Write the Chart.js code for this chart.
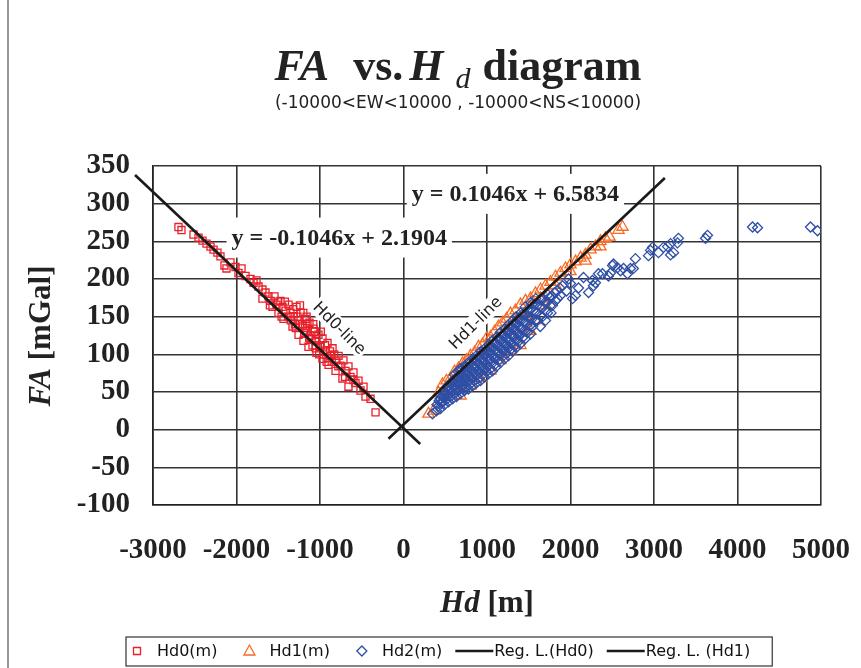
<!DOCTYPE html>
<html>
<head>
<meta charset="utf-8">
<script src="https://cdn.jsdelivr.net/npm/chart.js@4.4.1/dist/chart.umd.min.js"></script>
<style>
  html, body { margin: 0; padding: 0; background: #fff; }
  #wrap { width: 861px; height: 668px; }
</style>
</head>
<body>
<div id="wrap"><canvas id="fa_chart" width="861" height="668"></canvas></div>
<script>
// axis ranges
const xRange = [-3000, 5000];
const xStep = 1000;
const yRange = [-100, 350];
const yStep = 50;

const seriesNames = ['Hd0(m)', 'Hd1(m)', 'Hd2(m)', 'Reg. L.(Hd0)', 'Reg. L. (Hd1)'];
const regEquations = ['y = -0.1046x + 2.1904', 'y = 0.1046x + 6.5834'];
const lineNames = ['Hd0-line', 'Hd1-line'];

// Hd0 (m) : [Hd, FA]
const hd0 = [
  [-2695,269],[-2659,265],[-2515,259],[-2455,255],[-2407,251],[-2359,247],[-2311,243],[-2275,239],
  [-2228,235],[-2192,230],[-2144,218],[-2120,214],[-2072,222],[-2012,216],[-1976,208],[-1940,214],
  [-1892,204],[-1832,200],[-1796,195],[-1760,198],[-1736,190],[-1689,186],[-1653,182],[-1617,177],
  [-1689,174],[-1593,171],[-1545,177],[-1521,166],[-1569,163],[-1473,171],[-1449,163],[-1413,158],
  [-1497,155],[-1377,166],[-1353,155],[-1317,150],[-1437,147],[-1281,163],[-1257,145],[-1233,155],
  [-1209,138],[-1329,137],[-1174,147],[-1162,131],[-1126,142],[-1114,125],[-1257,126],[-1078,134],
  [-1054,118],[-1198,118],[-1018,126],[-994,112],[-970,121],[-1138,110],[-934,105],[-910,115],
  [-874,98],[-1042,102],[-850,108],[-814,92],[-970,94],[-778,98],[-754,85],[-898,86],[-719,92],
  [-695,78],[-814,78],[-659,84],[-635,70],[-731,68],[-599,76],[-575,62],[-659,57],[-539,65],
  [-515,52],[-479,57],[-455,44],[-395,41],[-335,23],
  [-1300,140],[-1190,128],[-1100,120],[-1000,110],[-880,104],[-1160,150],[-1380,150],[-1060,130],
  [-920,90],[-780,84],[-700,70],[-600,66],
  [-1460,150],[-1420,170],[-1350,145],[-1290,135],[-1240,140],[-1180,135],[-1130,122],[-1090,112],
  [-1050,108],[-1010,100],[-960,100],[-940,112],[-900,95],[-860,90],[-830,100],[-1320,160],
  [-1240,165],[-1200,155],[-1150,140],[-1500,170],[-1600,165],[-1270,150],[-1080,140],[-990,130]
];

// Hd1 (m)
const hd1 = [
  [299,21],[359,25],[419,49],[467,60],[515,65],[563,68],[611,77],[659,81],[707,88],[754,92],
  [802,98],[850,102],[898,110],[946,113],[994,121],[1042,123],[1090,130],[1138,137],[1186,142],
  [1234,147],[1281,154],[1341,158],[1401,166],[1461,171],[1521,174],[1581,181],[1641,186],
  [1701,191],[1760,196],[1820,203],[1880,208],[1940,214],[2000,219],[2060,223],[2120,228],
  [2180,232],[2240,239],[2299,243],[2359,250],[2419,254],[2467,256],[2575,265],[2623,269],
  [563,54],[743,76],[922,94],[1102,114],[1281,131],[1461,151],[1641,174],[1820,192],[2000,210],
  [2180,224],[2359,243],
  [802,58],[1042,78],[1162,92],[1401,112],[922,68],[1281,105],[683,45],[1581,145],[1701,165],[1521,131]
];

// Hd2 (m)
const hd2 = [
  [347,21],[395,25],[400,33],[443,28],[450,36],[438,41],[491,33],[485,42],[497,48],
  [539,37],[532,45],[545,53],[540,58],[587,41],[580,50],[594,57],[588,65],
  [635,44],[628,53],[641,61],[633,69],[683,48],[690,57],[676,65],[686,73],[680,81],
  [731,52],[725,60],[738,69],[729,77],[735,85],[778,54],[785,64],[772,73],[781,81],[776,89],
  [826,58],[820,68],[832,77],[824,85],[829,94],[874,62],[880,72],[868,81],[877,90],[871,98],
  [922,65],[915,76],[928,85],[920,94],[925,104],[970,70],[977,80],[963,89],[972,98],[966,107],
  [1018,74],[1011,84],[1024,94],[1015,104],[1021,113],[1066,78],[1073,89],[1059,98],[1069,109],[1062,118],
  [1114,84],[1107,94],[1120,104],[1110,114],[1117,123],[1162,89],[1169,100],[1155,109],[1165,119],[1158,129],
  [1210,94],[1203,105],[1216,114],[1206,125],[1213,134],[1257,98],[1264,109],[1250,119],[1260,130],[1253,139],
  [1305,104],[1298,114],[1311,125],[1301,135],[1308,145],[1353,109],[1360,119],[1346,130],[1356,141],[1349,150],
  [1401,114],[1394,125],[1407,135],[1397,146],[1404,155],[1461,121],[1468,131],[1454,142],[1464,153],[1457,163],
  [1521,127],[1514,138],[1527,149],[1517,159],[1524,169],[1581,145],[1588,155],[1574,166],[1584,174],
  [1641,151],[1634,163],[1647,172],[1638,137],[1701,145],[1708,158],[1694,169],
  [1760,165],[1753,176],[1767,155],[1820,171],[1813,182],[1880,178],[1873,188],
  [419,31],[425,38],[467,36],[461,44],[472,50],[515,40],[509,49],[520,57],[563,44],[557,53],[569,61],
  [611,48],[605,57],[617,65],[608,73],[659,52],[653,61],[665,69],[656,77],[707,54],[701,64],[713,72],[704,80],
  [754,57],[748,66],[760,76],[751,84],[802,61],[796,70],[808,80],[799,89],[850,65],[844,74],[856,84],[847,93],
  [898,68],[892,78],[904,88],[895,97],[946,73],[940,82],[952,92],[943,101],[994,77],[988,86],[1000,97],[991,106],
  [1042,81],[1036,92],[1048,101],[1039,110],[1090,86],[1084,96],[1096,106],[1087,115],
  [1138,92],[1132,101],[1144,111],[1135,121],[1186,97],[1180,106],[1192,117],[1183,126],
  [1234,101],[1228,111],[1240,122],[1231,131],[1281,106],[1275,117],[1287,127],[1278,137],
  [1329,111],[1323,122],[1335,133],[1326,142],[1377,117],[1371,127],[1383,138],[1374,147],
  [1425,122],[1419,133],[1431,143],[1422,153],[1485,129],[1479,139],[1491,150],[1482,159],
  [1545,137],[1539,147],[1551,158],[1542,167],[1605,145],[1599,155],[1611,166],
  [1665,150],[1659,163],[1671,174],[1725,155],[1719,169],[1731,179],[1784,165],[1778,177],[1844,174],[1838,184],
  [1904,191],[1952,184],[2000,194],[1976,200],[2024,174],[2060,178],[2096,188],[2156,202],
  [2216,182],[2263,198],[2275,191],[2299,195],[2335,207],[2383,207],[2455,204],[2479,208],
  [2503,218],[2515,220],[2563,215],[2599,211],[2635,214],[2683,207],[2718,214],[2754,214],
  [2778,227],[2934,231],[2958,238],[2982,242],[3054,235],[3114,242],[3198,232],[3234,235],
  [3162,243],[3198,247],[3281,248],[3293,254],[3617,254],[3641,258],[4180,269],[4240,268],
  [4874,269],[4958,264]
];

// regression lines, end points as drawn
const reg0 = [[-3215,338],[200,-19]];
const reg1 = [[-180,-12],[3130,334]];

// where the text labels sit, in data units
const eqAnchors = [[-770,255],[1340,313]];
const lineAnchors = [[-766,135],[860,142]];

const serif = '"Liberation Serif", "Times New Roman", serif';
const sans = '"DejaVu Sans", sans-serif';

const toXY = (arr) => arr.map(p => ({ x: p[0], y: p[1] }));

function drawParts(ctx, parts, cx, y) {
    let total = 0;
    parts.forEach(p => {
        ctx.font = p.font;
        p.w = ctx.measureText(p.text).width;
        total += p.w + (p.gap || 0);
    });
    let x = cx - total / 2;
    parts.forEach(p => {
        x += p.gap || 0;
        ctx.font = p.font;
        ctx.fillText(p.text, x, y + (p.dy || 0));
        x += p.w;
    });
}

function drawMarker(ctx, ds, x, y) {
    ctx.save();
    ctx.strokeStyle = ds.borderColor;
    ctx.lineWidth = ds.type === 'line' ? 2.5 : 1.3;
    ctx.beginPath();
    if (ds.type === 'line') {
        ctx.moveTo(x - 19, y);
        ctx.lineTo(x + 19, y);
    } else if (ds.pointStyle === 'rect') {
        ctx.rect(x - 3.5, y - 3.5, 7, 7);
    } else if (ds.pointStyle === 'triangle') {
        ctx.moveTo(x, y - 6);
        ctx.lineTo(x + 5.5, y + 4);
        ctx.lineTo(x - 5.5, y + 4);
        ctx.closePath();
    } else {
        ctx.moveTo(x - 5, y);
        ctx.lineTo(x, y - 5);
        ctx.lineTo(x + 5, y);
        ctx.lineTo(x, y + 5);
        ctx.closePath();
    }
    ctx.stroke();
    ctx.restore();
}

const decorations = {
    id: 'decorations',
    beforeDraw(chart) {
        const ctx = chart.ctx;
        ctx.save();
        ctx.fillStyle = '#fff';
        ctx.fillRect(0, 0, chart.width, chart.height);
        // outer frame edge
        ctx.strokeStyle = '#999';
        ctx.lineWidth = 2;
        ctx.beginPath();
        ctx.moveTo(8, 0);
        ctx.lineTo(8, chart.height);
        ctx.stroke();
        ctx.restore();
    },
    beforeDatasetsDraw(chart) {
        const ctx = chart.ctx;
        const xs = chart.scales.x, ys = chart.scales.y;
        ctx.save();
        // regression equations, white boxed
        ctx.font = 'bold 24px ' + serif;
        ctx.textAlign = 'center';
        ctx.textBaseline = 'middle';
        regEquations.forEach((t, i) => {
            const px = xs.getPixelForValue(eqAnchors[i][0]);
            const py = ys.getPixelForValue(eqAnchors[i][1]);
            const w = ctx.measureText(t).width;
            ctx.fillStyle = '#fff';
            ctx.fillRect(px - w / 2 - 5, py - 20, w + 10, 40);
            ctx.fillStyle = '#222';
            ctx.fillText(t, px, py + 1);
        });
        // rotated line names
        ctx.font = '16px ' + sans;
        lineNames.forEach((t, i) => {
            const px = xs.getPixelForValue(lineAnchors[i][0]);
            const py = ys.getPixelForValue(lineAnchors[i][1]);
            const w = ctx.measureText(t).width;
            ctx.save();
            ctx.translate(px, py);
            ctx.rotate(i === 0 ? Math.PI / 4 : -Math.PI / 4);
            ctx.fillStyle = '#fff';
            ctx.fillRect(-w / 2 - 2, -9, w + 4, 18);
            ctx.fillStyle = '#222';
            ctx.fillText(t, 0, 1);
            ctx.restore();
        });
        ctx.restore();
    },
    afterDraw(chart) {
        const ctx = chart.ctx;
        const area = chart.chartArea;
        ctx.save();
        ctx.fillStyle = '#222';
        ctx.textBaseline = 'alphabetic';
        ctx.textAlign = 'left';
        // main title
        drawParts(ctx, [
            { text: 'FA', font: 'italic bold 44px ' + serif },
            { text: 'vs.', font: 'bold 44px ' + serif, gap: 24 },
            { text: 'H', font: 'italic bold 44px ' + serif, gap: 6 },
            { text: 'd', font: 'italic 30px ' + serif, gap: 12, dy: 8 },
            { text: 'diagram', font: 'bold 44px ' + serif, gap: 12 },
        ], 458, 80);
        // subtitle
        ctx.textAlign = 'center';
        ctx.textBaseline = 'middle';
        ctx.font = '17px ' + sans;
        ctx.fillText('(-10000<EW<10000 , -10000<NS<10000)', 458, 104);
        ctx.textAlign = 'left';
        // x axis title
        drawParts(ctx, [
            { text: 'Hd', font: 'italic bold 31px ' + serif },
            { text: ' [m]', font: 'bold 31px ' + serif },
        ], (area.left + area.right) / 2, 604);
        // y axis title
        ctx.save();
        ctx.translate(42, 336);
        ctx.rotate(-Math.PI / 2);
        drawParts(ctx, [
            { text: 'FA', font: 'italic bold 31px ' + serif },
            { text: ' [mGal]', font: 'bold 31px ' + serif },
        ], 0, 0);
        ctx.restore();

        // legend
        const items = chart.data.datasets;
        ctx.font = '16px ' + sans;
        ctx.textBaseline = 'middle';
        const boxW = 24, gap = 8, pad = 20, cy = 651;
        let x = 125;
        items.forEach(ds => {
            drawMarker(ctx, ds, x + boxW / 2, cy);
            ctx.fillStyle = '#111';
            ctx.fillText(ds.label, x + boxW + gap, cy + 1);
            x += boxW + gap + ctx.measureText(ds.label).width + pad;
        });
        ctx.strokeStyle = '#333';
        ctx.lineWidth = 1.2;
        ctx.strokeRect(126, 637, x - pad + 22 - 126, 29);
        ctx.restore();
    }
};

const ctx = document.getElementById('fa_chart').getContext('2d');

new Chart(ctx, {
    type: 'scatter',
    data: {
        datasets: [
            {
                label: seriesNames[0],
                data: toXY(hd0),
                pointStyle: 'rect',
                pointRadius: 5,
                borderColor: '#e8202a',
                backgroundColor: 'rgba(0,0,0,0)',
                pointBorderWidth: 1.3,
                order: 5,
            },
            {
                label: seriesNames[1],
                data: toXY(hd1),
                pointStyle: 'triangle',
                pointRadius: 6.5,
                borderColor: '#fa6a22',
                backgroundColor: 'rgba(0,0,0,0)',
                pointBorderWidth: 1.3,
                order: 4,
            },
            {
                label: seriesNames[2],
                data: toXY(hd2),
                pointStyle: 'rectRot',
                pointRadius: 5,
                borderColor: '#2f4fa6',
                backgroundColor: 'rgba(0,0,0,0)',
                pointBorderWidth: 1.3,
                order: 3,
            },
            {
                type: 'line',
                label: seriesNames[3],
                data: toXY(reg0),
                borderColor: '#1a1a1a',
                borderWidth: 2.6,
                pointRadius: 0,
                fill: false,
                clip: false,
                order: 2,
            },
            {
                type: 'line',
                label: seriesNames[4],
                data: toXY(reg1),
                borderColor: '#1a1a1a',
                borderWidth: 2.6,
                pointRadius: 0,
                fill: false,
                clip: false,
                order: 1,
            },
        ],
    },
    options: {
        responsive: false,
        animation: false,
        devicePixelRatio: 1,
        layout: {
            padding: { top: 166, right: 40, bottom: 0, left: 0 },
        },
        plugins: {
            legend: { display: false },
            title: { display: false },
            tooltip: { enabled: false },
        },
        scales: {
            x: {
                type: 'linear',
                min: xRange[0],
                max: xRange[1],
                afterFit: (scale) => { scale.height = 163; },
                grid: { color: '#333', lineWidth: 1.6, drawTicks: true, tickLength: 26, tickColor: 'rgba(0,0,0,0)' },
                border: { color: '#222', width: 1.6 },
                ticks: {
                    stepSize: xStep,
                    autoSkip: false,
                    maxRotation: 0,
                    padding: 2,
                    color: '#222',
                    font: { family: serif, size: 29, weight: 'bold' },
                    callback: (v) => String(v),
                },
            },
            y: {
                type: 'linear',
                min: yRange[0],
                max: yRange[1],
                afterFit: (scale) => { scale.width = 153; },
                grid: { color: '#333', lineWidth: 1.6, drawTicks: false },
                border: { color: '#222', width: 1.6 },
                ticks: {
                    stepSize: yStep,
                    autoSkip: false,
                    padding: 23,
                    color: '#222',
                    font: { family: serif, size: 29, weight: 'bold' },
                    callback: (v) => String(v),
                },
            },
        },
    },
    plugins: [decorations],
});
</script>
</body>
</html>
